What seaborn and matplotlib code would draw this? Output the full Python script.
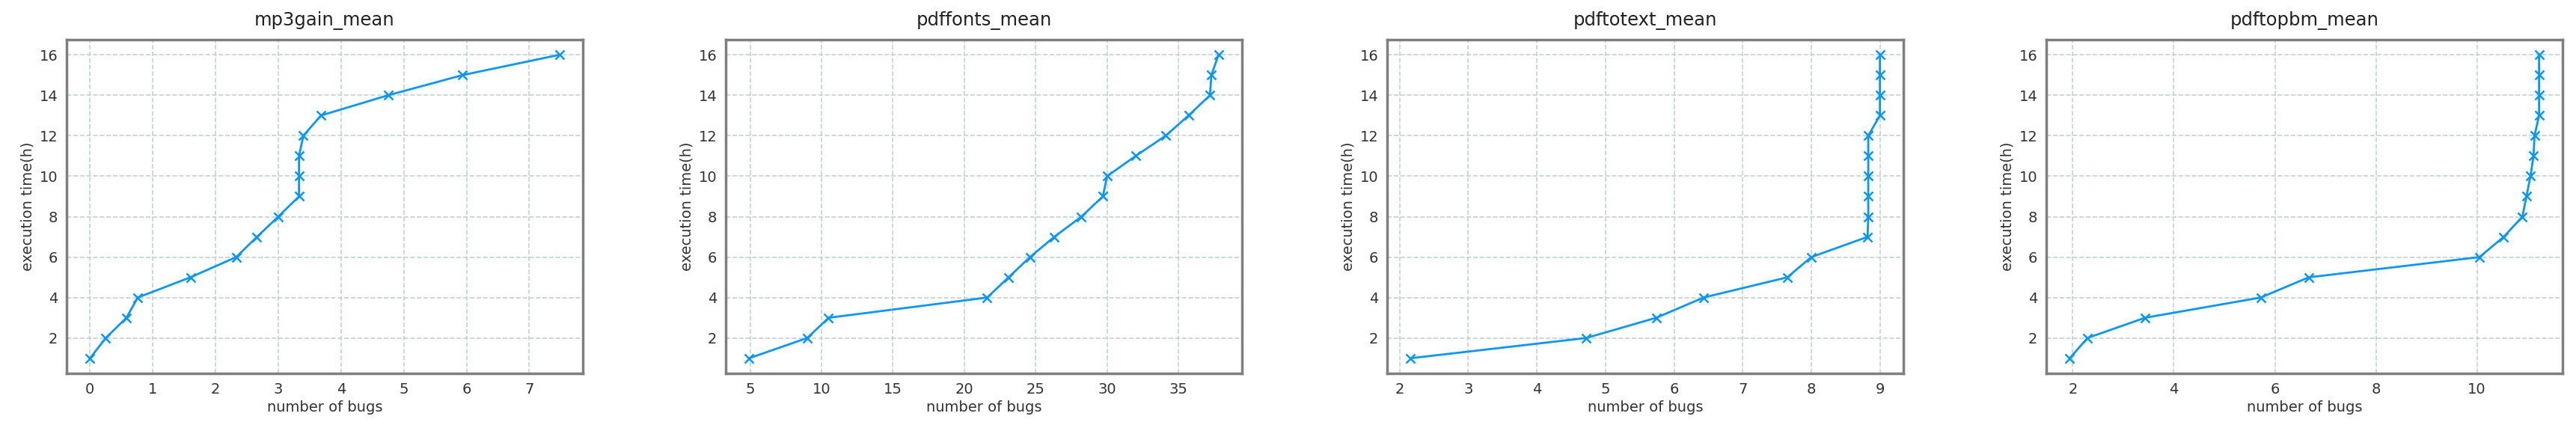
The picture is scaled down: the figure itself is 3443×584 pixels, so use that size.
import numpy as np
import pandas as pd
import matplotlib
matplotlib.use('Agg')
import matplotlib.pyplot as plt
import seaborn as sns

sns.set_style('white')
plt.rcParams['font.family'] = ['DejaVu Sans']

# execution time (hours) on the y axis, same for every program
hours = list(range(1, 17))

titles = ['mp3gain_mean', 'pdffonts_mean', 'pdftotext_mean', 'pdftopbm_mean']

# mean number of bugs found at each hour
mp3gain_bugs = [0.0, 0.25, 0.58, 0.76, 1.6, 2.33, 2.66, 3.0, 3.33, 3.33, 3.33, 3.4, 3.68, 4.75, 5.94, 7.48]
pdffonts_bugs = [4.94, 9.0, 10.5, 21.6, 23.1, 24.6, 26.3, 28.2, 29.7, 30.0, 32.0, 34.1, 35.7, 37.2, 37.3, 37.8]
pdftotext_bugs = [2.16, 4.72, 5.74, 6.43, 7.65, 8.0, 8.82, 8.83, 8.83, 8.83, 8.83, 8.83, 9.0, 9.0, 9.0, 9.0]
pdftopbm_bugs = [1.94, 2.29, 3.43, 5.72, 6.67, 10.05, 10.53, 10.9, 10.98, 11.06, 11.12, 11.14, 11.23, 11.23, 11.23, 11.23]

all_bugs = [mp3gain_bugs, pdffonts_bugs, pdftotext_bugs, pdftopbm_bugs]

fig = plt.figure(figsize=(34.43, 5.84), dpi=100)

lefts = [89, 970, 1854, 2735]
for i, (title, bugs) in enumerate(zip(titles, all_bugs)):
    ax = fig.add_axes([lefts[i] / 3443, 85 / 584, 690 / 3443, 446 / 584])
    df = pd.DataFrame({'bugs': bugs, 'hours': hours})
    sns.lineplot(data=df, x='bugs', y='hours', ax=ax, sort=False, estimator=None,
                 color='#0a96f5', marker='x', markersize=9, markeredgewidth=1.8,
                 markeredgecolor='#0a96f5', linewidth=2)
    ax.grid(True, linestyle='--', color='#c5d2d0', linewidth=1.2)
    ax.set_axisbelow(True)
    for s in ax.spines.values():
        s.set_color('#7f7f7f')
        s.set_linewidth(2.5)
    ax.tick_params(axis='both', labelsize=14, colors='#333333', length=5, width=1.2)
    ax.set_title(title, fontsize=17.5, color='#222222', pad=14)
    ax.set_xlabel('number of bugs', fontsize=14, color='#333333')
    ax.set_ylabel('execution time(h)', fontsize=14, color='#333333')
    ax.set_yticks([2, 4, 6, 8, 10, 12, 14, 16])

plt.savefig('out.png', dpi=100)
